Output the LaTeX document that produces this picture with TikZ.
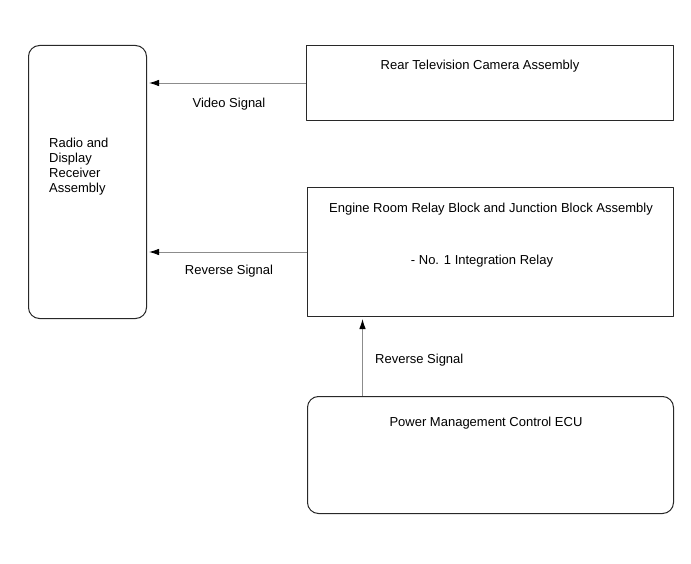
\documentclass[tikz,border=0pt]{standalone}
\usepackage{fontspec}
\setmainfont{Liberation Sans}
\usetikzlibrary{arrows.meta,positioning,calc}
\definecolor{blkedge}{RGB}{40,40,40}
\definecolor{sigline}{RGB}{140,140,140}
\tikzset{
  unitbox/.style={
    draw=blkedge, line width=1pt, inner sep=0pt
  },
  roundbox/.style={unitbox, rounded corners=11pt},
  lbl/.style={font=\fontsize{13}{15}\selectfont, inner sep=0pt, anchor=base},
  sig/.style={-{Latex[length=10pt,width=6.5pt,color=black]}, draw=sigline, line width=0.9pt,
    shorten >=2pt},
  every picture/.append style={line join=round}
}
\begin{document}
\begin{tikzpicture}[x=1pt, y=-1pt]
  \useasboundingbox (0,0) rectangle (691,564);
  % blocks
  \node[roundbox, minimum width=118pt, minimum height=273pt, anchor=north west] (radio) at (28,45) {};
  \node[unitbox, minimum width=367pt, minimum height=75pt, anchor=north west] (cam) at (306,45) {};
  \node[unitbox, minimum width=366pt, minimum height=129pt, anchor=north west] (relay) at (307,187) {};
  \node[roundbox, minimum width=366pt, minimum height=117pt, anchor=north west] (ecu) at (307,396) {};
  % block texts
  \node[lbl, anchor=base west, align=left] (radiotxt) at (49,193)
    {Radio and\\Display\\Receiver\\Assembly};
  \node[lbl] (camtxt) at (480,70) {Rear Television Camera Assembly};
  \node[lbl] (relaytxt) at (491,213) {Engine Room Relay Block and Junction Block Assembly};
  \node[lbl] (relaysub) at (482,265) {- No. 1 Integration Relay};
  \node[lbl] (ecutxt) at (486,426) {Power Management Control ECU};
  % signals
  \draw[sig] (cam.west) -- (cam.west -| radio.east);
  \draw[sig] (relay.west) -- (relay.west -| radio.east);
  \coordinate (ecuout) at ($(ecu.north west)+(55.5,0)$);
  \draw[sig] (ecuout) -- (ecuout |- relay.south);
  \node[lbl] (vidlbl) at (229,108) {Video Signal};
  \node[lbl] (revlbl) at (229,275) {Reverse Signal};
  \node[lbl, anchor=base west] (revlbl2) at (375,363) {Reverse Signal};
\end{tikzpicture}
\end{document}
